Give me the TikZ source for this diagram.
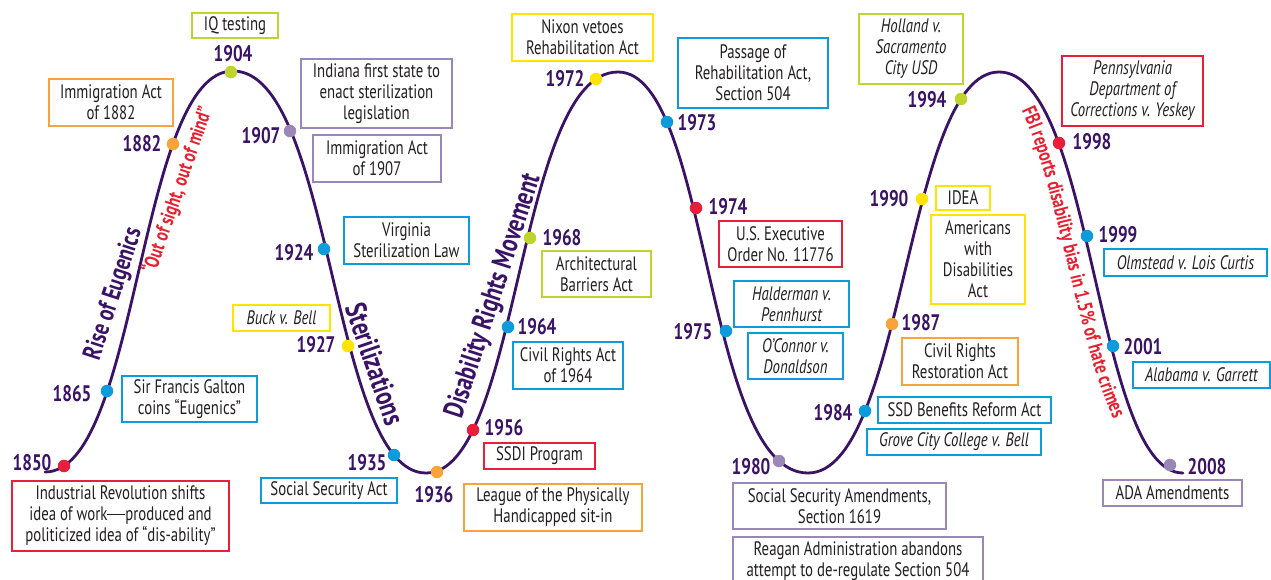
\documentclass[tikz,border=0pt]{standalone}
\usepackage{fontspec}
\setmainfont[FakeStretch=0.76]{PT Sans}
\usetikzlibrary{decorations.text}
\definecolor{curvecol}{RGB}{58,18,102}
\definecolor{textcol}{RGB}{35,31,32}
\definecolor{cred}{RGB}{232,30,58}
\definecolor{corange}{RGB}{248,164,58}
\definecolor{clime}{RGB}{192,212,46}
\definecolor{cyellow}{RGB}{255,228,0}
\definecolor{cblue}{RGB}{12,156,219}
\definecolor{cpurple}{RGB}{155,134,184}
\definecolor{redtext}{RGB}{232,32,47}
\newcommand\boxfont{\fontsize{19.5}{21}\selectfont}
\newcommand\yearfont{\fontsize{22.5}{24}\selectfont\bfseries}
\newcommand\rotfont{\fontsize{26}{28}\selectfont\bfseries}
\newcommand\redfont{\fontsize{20.5}{22}\selectfont\bfseries}
\newcommand\emrule{\rule[5.8pt]{18pt}{1.3pt}}
\begin{document}
\begin{tikzpicture}[x=1pt,y=-1pt,
  evbox/.style={draw=#1, line width=1.7pt, align=center, inner sep=1pt, font=\boxfont, text=textcol},
  yr/.style={font=\yearfont, text=curvecol, inner sep=0pt},
  yeardot/.style={circle, fill=#1, minimum size=12.5pt, inner sep=0pt},
  rotlab/.style={font=\rotfont, text=curvecol, inner sep=0pt},
  redlab/.style={font=\redfont, text=redtext, inner sep=0pt},
  wave/.style={draw=curvecol, line width=2.8pt, line cap=round}]
\useasboundingbox (0,0) rectangle (1271,579);
\fill[white] (0,0) rectangle (1271,579);

% extremes of the wave
\coordinate (s0) at (45,472);
\coordinate (top1) at (233,71);
\coordinate (bot1) at (426,473);
\coordinate (top2) at (618,72);
\coordinate (bot2) at (808,473);
\coordinate (top3) at (999,72);
\coordinate (bot3) at (1190,473);

\draw[wave, shorten >=7pt] (s0) .. controls +(94,0) and +(-95,0) .. (top1)
   .. controls +(100,0) and +(-95,0) .. (bot1)
   .. controls +(94,0) and +(-101,0) .. (top2)
   .. controls +(92,0) and +(-104,0) .. (bot2)
   .. controls +(96,0) and +(-93,0) .. (top3)
   .. controls +(95,0) and +(-95,0) .. (bot3);

% dots
\node[yeardot=cred] (d1850) at (64,466) {};
\node[yeardot=cblue] (d1865) at (107,391) {};
\node[yeardot=corange] (d1882) at (173,144) {};
\node[yeardot=clime] (d1904) at (231,72) {};
\node[yeardot=cpurple] (d1907) at (290,131) {};
\node[yeardot=cblue] (d1924) at (324,249) {};
\node[yeardot=cyellow] (d1927) at (348,346) {};
\node[yeardot=cblue] (d1935) at (394,455) {};
\node[yeardot=corange] (d1936) at (437,472) {};
\node[yeardot=cred] (d1956) at (473,430) {};
\node[yeardot=cblue] (d1964) at (508,327) {};
\node[yeardot=clime] (d1968) at (530,238) {};
\node[yeardot=cyellow] (d1972) at (596,79) {};
\node[yeardot=cblue] (d1973) at (667,122) {};
\node[yeardot=cred] (d1974) at (696,208) {};
\node[yeardot=cblue] (d1975) at (726,331) {};
\node[yeardot=cpurple] (d1980) at (779,461) {};
\node[yeardot=cblue] (d1984) at (865,411) {};
\node[yeardot=corange] (d1987) at (892,324) {};
\node[yeardot=cyellow] (d1990) at (922,199) {};
\node[yeardot=clime] (d1994) at (961,99) {};
\node[yeardot=cred] (d1998) at (1059,143) {};
\node[yeardot=cblue] (d1999) at (1087,236) {};
\node[yeardot=cblue] (d2001) at (1113,346) {};
\node[yeardot=cpurple] (d2008) at (1170,465) {};

% years
\node[yr] (y1850) at (32,463) {1850};
\node[yr] (y1865) at (72,394) {1865};
\node[yr] (y1882) at (142,144) {1882};
\node[yr] (y1904) at (233,54) {1904};
\node[yr] (y1907) at (261,136) {1907};
\node[yr] (y1924) at (294,253) {1924};
\node[yr] (y1927) at (316,345) {1927};
\node[yr] (y1935) at (367,463) {1935};
\node[yr] (y1936) at (434,495) {1936};
\node[yr] (y1956) at (504,428) {1956};
\node[yr] (y1964) at (537,327) {1964};
\node[yr] (y1968) at (562,238) {1968};
\node[yr] (y1972) at (565,79) {1972};
\node[yr] (y1973) at (697,123) {1973};
\node[yr] (y1974) at (728,207) {1974};
\node[yr] (y1975) at (693,332) {1975};
\node[yr] (y1980) at (751,467) {1980};
\node[yr] (y1984) at (833,413) {1984};
\node[yr] (y1987) at (921,323) {1987};
\node[yr] (y1990) at (889,199) {1990};
\node[yr] (y1994) at (927,100) {1994};
\node[yr] (y1998) at (1092,142) {1998};
\node[yr] (y1999) at (1118,235) {1999};
\node[yr] (y2001) at (1143,347) {2001};
\node[yr] (y2008) at (1207,467) {2008};

% event boxes
\node[evbox=clime, minimum width=86pt, minimum height=25pt] (b1) at (235,25.5) {IQ testing};
\node[evbox=corange, minimum width=124pt, minimum height=47pt] (b2) at (111,102.5) {Immigration Act\\of 1882};
\node[evbox=cpurple, minimum width=151pt, minimum height=69pt] (b3) at (376.5,93.5) {Indiana first state to\\enact sterilization\\legislation};
\node[evbox=cpurple, minimum width=128pt, minimum height=47pt] (b4) at (377,158.5) {Immigration Act\\of 1907};
\node[evbox=cblue, minimum width=125pt, minimum height=47pt] (b5) at (406.5,240.5) {Virginia\\Sterilization Law};
\node[evbox=cyellow, minimum width=97pt, minimum height=26pt] (b6) at (281.5,318) {\itshape Buck v. Bell};
\node[evbox=cblue, minimum width=135pt, minimum height=46pt] (b7) at (189.5,399) {Sir Francis Galton\\coins “Eugenics”};
\node[evbox=cred, minimum width=217pt, minimum height=70pt] (b8) at (120.5,516) {Industrial Revolution shifts\\idea of work\emrule produced and\\politicized idea of “dis-ability”};
\node[evbox=cblue, minimum width=136pt, minimum height=25pt] (b9) at (329,490.5) {Social Security Act};
\node[evbox=cyellow, minimum width=141pt, minimum height=47pt] (b10) at (582.5,37.5) {Nixon vetoes\\Rehabilitation Act};
\node[evbox=cblue, minimum width=150pt, minimum height=70pt] (b11) at (753,73) {Passage of\\Rehabilitation Act,\\Section 504};
\node[evbox=cred, minimum width=123pt, minimum height=46pt] (b12) at (780.5,244) {U.S. Executive\\Order No. 11776};
\node[evbox=clime, minimum width=109pt, minimum height=46pt] (b13) at (596.5,274) {Architectural\\Barriers Act};
\node[evbox=cblue, minimum width=110pt, minimum height=47pt] (b14) at (568,365.5) {Civil Rights Act\\of 1964};
\node[evbox=cred, minimum width=111pt, minimum height=26pt] (b15) at (539.5,456) {SSDI Program};
\node[evbox=corange, minimum width=178pt, minimum height=47pt] (b16) at (553,507.5) {League of the Physically\\Handicapped sit-in};
\node[evbox=cblue, minimum width=115pt, minimum height=46pt] (b17) at (791.5,304) {\itshape Halderman v.\\\itshape Pennhurst};
\node[evbox=cblue, minimum width=95pt, minimum height=46pt] (b18) at (795.5,356) {\itshape O’Connor v.\\\itshape Donaldson};
\node[evbox=cpurple, minimum width=213pt, minimum height=46pt] (b19) at (839.5,506) {Social Security Amendments,\\Section 1619};
\node[evbox=cpurple, minimum width=250pt, minimum height=48pt] (b20) at (858,561) {Reagan Administration abandons\\attempt to de-regulate Section 504};
\node[evbox=corange, minimum width=116pt, minimum height=47pt] (b21) at (960,361.5) {Civil Rights\\Restoration Act};
\node[evbox=cblue, minimum width=173pt, minimum height=26pt] (b22) at (964.5,410) {SSD Benefits Reform Act};
\node[evbox=cblue, minimum width=174pt, minimum height=26pt] (b23) at (954,442) {\itshape Grove City College v. Bell};
\node[evbox=cyellow, minimum width=94pt, minimum height=89pt] (b24) at (978,259.5) {Americans\\with\\Disabilities\\Act};
\node[evbox=cyellow, minimum width=54pt, minimum height=24pt] (b25) at (963,198) {IDEA};
\node[evbox=clime, minimum width=104pt, minimum height=70pt] (b26) at (911,49) {\itshape Holland v.\\\itshape Sacramento\\\itshape City USD};
\node[evbox=cred, minimum width=141pt, minimum height=70pt] (b27) at (1132.5,91) {\itshape Pennsylvania\\\itshape Department of\\\itshape Corrections v. Yeskey};
\node[evbox=cblue, minimum width=163pt, minimum height=27pt] (b28) at (1185.5,262.5) {\itshape Olmstead v. Lois Curtis};
\node[evbox=cblue, minimum width=137pt, minimum height=26pt] (b29) at (1201.5,375) {\itshape Alabama v. Garrett};
\node[evbox=cpurple, minimum width=139pt, minimum height=26pt] (b30) at (1172.5,493) {ADA Amendments};

% era labels
\node[rotlab, rotate=72] (era1) at (114,294) {Rise of Eugenics};
\node[redlab, rotate=71] (quote1) at (178,190) {“Out of sight, out of mind”};
\node[rotlab, rotate=-71, font=\fontsize{29.5}{31}\selectfont\bfseries] (era2) at (375,364) {Sterilizations};
\node[rotlab, rotate=72, font=\fontsize{28.5}{30}\selectfont\bfseries] (era3) at (494,296) {Disability Rights Movement};
\path[decorate, decoration={text along path,
    text={|\redfont|FBI reports disability bias in 1.5{\%} of hate crimes},
    text color=redtext, text align=center}]
  ([shift={(-27,-8)}]top3) .. controls +(95,0) and +(-95,0) .. ([shift={(-27,-8)}]bot3);
\end{tikzpicture}
\end{document}
